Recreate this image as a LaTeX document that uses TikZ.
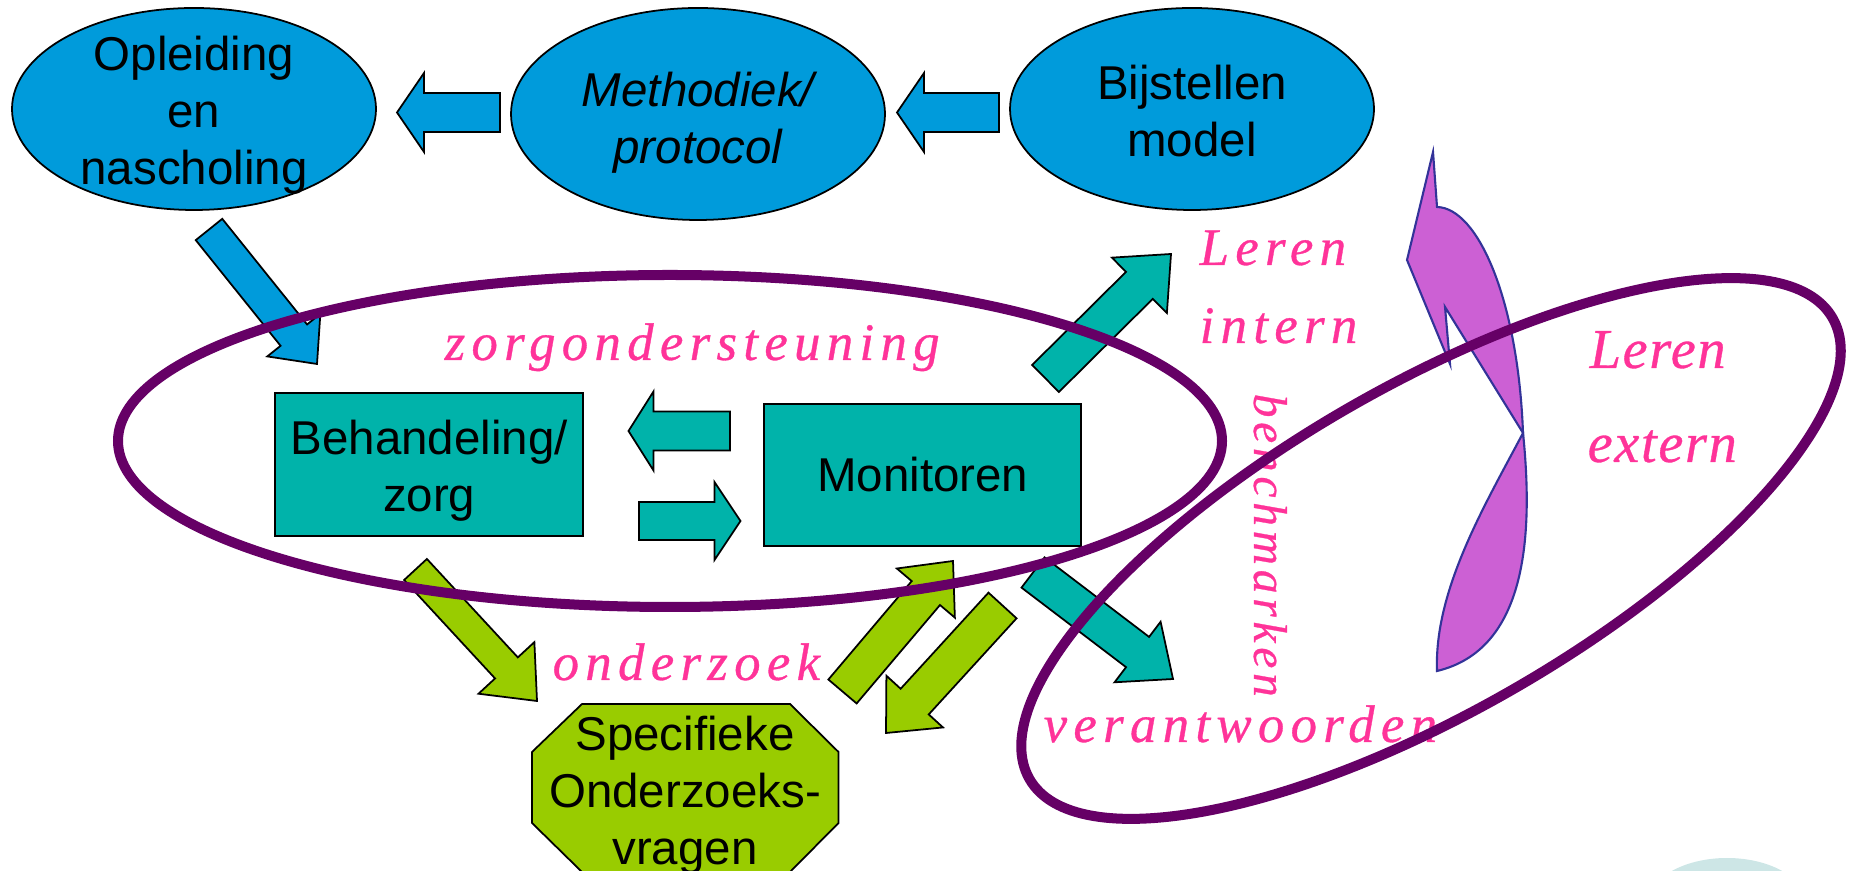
\documentclass[tikz,border=0pt]{standalone}
\usepackage{fontspec}
\setmainfont{Liberation Sans}
\newfontfamily\spacedserif[LetterSpace=12,FakeBold=0.6]{Liberation Serif}
\newfontfamily\benchserif[LetterSpace=10,FakeBold=0.6]{Liberation Serif}
\newfontfamily\looseserif[LetterSpace=3,FakeBold=0.6]{Liberation Serif}
\usetikzlibrary{calc}
\definecolor{oplblue}{RGB}{0,155,219}
\definecolor{monteal}{RGB}{0,179,170}
\definecolor{onzgreen}{RGB}{153,204,0}
\definecolor{ringpurple}{RGB}{102,0,102}
\definecolor{leerpink}{RGB}{255,51,153}
\definecolor{pijlorchid}{RGB}{204,96,212}
\definecolor{pijlrand}{RGB}{51,51,153}
\definecolor{logoteal}{RGB}{205,230,230}
\begin{document}
\begin{tikzpicture}[x=0.01cm,y=-0.01cm,
		bubble/.style={draw=black,line width=0.5pt,fill=oplblue},
		bubbletext/.style={inner sep=0pt,align=center,font=\fontsize{13.5}{16.2}\selectfont},
		procbox/.style={draw=black,line width=0.5pt,fill=monteal,inner sep=0pt,align=center,font=\fontsize{13.5}{16.2}\selectfont},
		octshape/.style={draw=black,line width=0.5pt,fill=onzgreen},
		bluearrow/.style={draw=black,line width=0.5pt,fill=oplblue},
		tealarrow/.style={draw=black,line width=0.5pt,fill=monteal},
		greenarrow/.style={draw=black,line width=0.5pt,fill=onzgreen},
		pinktxt/.style={text=leerpink,inner sep=0pt,anchor=base west,font=\spacedserif\itshape\fontsize{15}{17}\selectfont},
		bigtxt/.style={pinktxt,font=\looseserif\itshape\fontsize{16}{18}\selectfont},
		curvedarrow/.style={fill=pijlorchid,draw=pijlrand,line width=0.6pt},
		ring/.style={draw=ringpurple,line width=0.1cm}]
			\newcommand{\myblockarrow}[6]{
				\coordinate (hb) at ($(#3)!#6!(#2)$);
				\filldraw[#1] ($(#2)!#4!90:(#3)$) -- ($(hb)!#4!-90:(#2)$) -- ($(hb)!#5!-90:(#2)$) -- (#3)
					-- ($(hb)!#5!90:(#2)$) -- ($(hb)!#4!90:(#2)$) -- ($(#2)!#4!-90:(#3)$) -- cycle;
			}
			\useasboundingbox (0,0) rectangle (1849,871);
			%Logo in the corner
			\fill[logoteal] (1727,905) ellipse [x radius=80, y radius=47];
			%Top row
			\coordinate (opl) at (194,109);
			\coordinate (meth) at (698,114);
			\coordinate (bij) at (1192,109);
			\foreach \c/\rx/\ry in {opl/182/101,meth/187/106,bij/182/101} {
				\filldraw[bubble] (\c) ellipse [x radius=\rx, y radius=\ry];
			}
			\node[bubbletext] (opleiding) at ($(opl)+(0,6)$) {Opleiding\\en\\nascholing};
			\node[bubbletext,font=\fontsize{13.5}{16.2}\selectfont\itshape] (methodiek) at ($(meth)+(0,9)$) {Methodiek/\\protocol};
			\node[bubbletext] (bijstellen) at ($(bij)+(0,2)$) {Bijstellen\\model};
			%Arrows between the top row
			\coordinate (methtail) at (500,112.5);
			\coordinate (opltip) at (397,112.5);
			\coordinate (bijtail) at (999,112.5);
			\coordinate (methtip) at (897,112.5);
			\myblockarrow{bluearrow}{methtail}{opltip}{0.195cm}{0.395cm}{0.27cm}
			\myblockarrow{bluearrow}{bijtail}{methtip}{0.195cm}{0.395cm}{0.27cm}
			%Arrow down to the care box
			\coordinate (opltail) at (209,229.5);
			\coordinate (behtip) at (317,364);
			\myblockarrow{bluearrow}{opltail}{behtip}{0.17cm}{0.34cm}{0.37cm}
			%The two boxes
			\node[procbox,minimum width=3.076cm,minimum height=1.43cm] (behandeling) at (429.2,464.2) {};
			\node[bubbletext] (behtxt) at ($(behandeling.center)+(0,7)$) {Behandeling/\\zorg};
			\node[procbox,minimum width=3.165cm,minimum height=1.42cm] (monitoren) at (922.7,475) {Monitoren};
			%Arrows between the boxes
			\coordinate (montail) at (730,431);
			\coordinate (behin) at (628.5,431);
			\coordinate (behtail) at (639,521);
			\coordinate (monin) at (740.5,521);
			\myblockarrow{tealarrow}{montail}{behin}{0.195cm}{0.395cm}{0.25cm}
			\myblockarrow{tealarrow}{behtail}{monin}{0.19cm}{0.39cm}{0.26cm}
			%Arrows out of the monitor box
			\coordinate (inttail) at (1045.5,378.5);
			\coordinate (inttip) at (1171,254);
			\coordinate (vertail) at (1033,572.5);
			\coordinate (vertip) at (1173,679);
			\myblockarrow{tealarrow}{inttail}{inttip}{0.19cm}{0.39cm}{0.445cm}
			\myblockarrow{tealarrow}{vertail}{vertip}{0.19cm}{0.38cm}{0.445cm}
			%Research arrows
			\coordinate (ondtail) at (415.5,569.5);
			\coordinate (ondtip) at (537,701);
			\coordinate (vraagtail) at (842.5,691.5);
			\coordinate (vraagtip) at (953,561);
			\coordinate (terugtail) at (1002.5,605.5);
			\coordinate (terugtip) at (886,733);
			\myblockarrow{greenarrow}{ondtail}{ondtip}{0.155cm}{0.38cm}{0.45cm}
			\myblockarrow{greenarrow}{vraagtail}{vraagtip}{0.185cm}{0.38cm}{0.42cm}
			\myblockarrow{greenarrow}{terugtail}{terugtip}{0.19cm}{0.383cm}{0.425cm}
			%Octagon
			\filldraw[octshape] (582,704) -- (790,704) -- (838.5,752) -- (838.5,823) -- (790,872)
				-- (582,872) -- (532,823) -- (532,752) -- cycle;
			\node[bubbletext] (specifiek) at (685,795) {Specifieke\\Onderzoeks-\\vragen};
			%Pink labels
			\node[pinktxt] (zorgtxt) at (444,360) {zorgondersteuning};
			\node[pinktxt] (lerenint) at (1199,265) {Leren};
			\node[pinktxt] (interntxt) at (1199,343) {intern};
			\node[pinktxt] (onderzoektxt) at (552,680) {onderzoek};
			\node[pinktxt] (verantwtxt) at (1043,742) {verantwoorden};
			\node[pinktxt,rotate=-90,font=\benchserif\itshape\fontsize{13.5}{15}\selectfont] (benchtxt) at (1254,393) {benchmarken};
			\node[bigtxt] (lerenext) at (1589,368) {Leren};
			\node[bigtxt] (externtxt) at (1587,462) {extern};
			%Curved arrow
			\filldraw[curvedarrow] (1433,152) -- (1437,207)
				.. controls (1478,208) and (1518,300) .. (1523,433) -- (1445,307) -- (1450,364) -- (1407,260) -- cycle;
			\filldraw[curvedarrow] (1523,433)
				.. controls (1534,540) and (1525,650) .. (1437,671)
				.. controls (1434,590) and (1485,505) .. (1523,433) -- cycle;
			%The two rings
			\draw[ring] (670,441) ellipse [x radius=552, y radius=166];
			\draw[ring,rotate around={29.85:(1431,548.5)}] (1431,548.5) ellipse [x radius=463, y radius=163];
\end{tikzpicture}
\end{document}
